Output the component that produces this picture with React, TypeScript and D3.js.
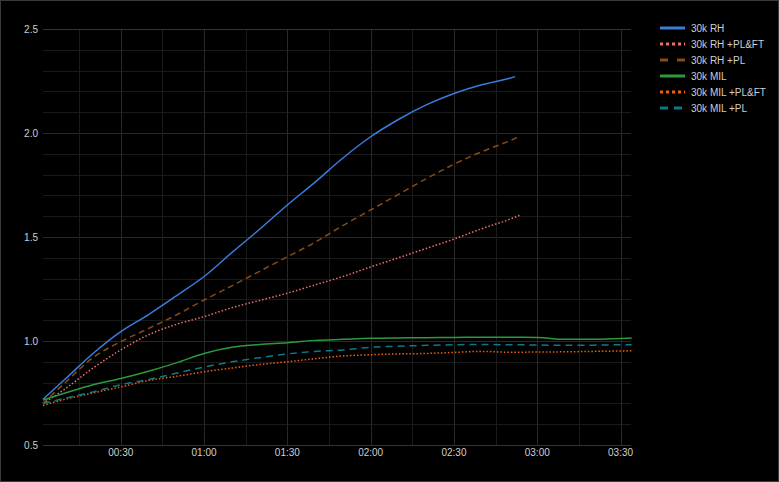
import React, { useEffect, useRef } from 'react';
import * as d3 from 'd3';

// elapsed time in minutes
const times = [2, 10, 20, 30, 40, 50, 60, 70, 80, 90, 100, 110, 120, 130, 140, 150, 160, 170, 172, 174, 180, 190, 200, 210, 214];

const rh = [0.72, 0.817, 0.94, 1.045, 1.127, 1.217, 1.31, 1.425, 1.537, 1.654, 1.764, 1.88, 1.982, 2.065, 2.135, 2.19, 2.232, 2.263, 2.271, null, null, null, null, null, null];
const rhPlFt = [0.70, 0.77, 0.87, 0.957, 1.03, 1.08, 1.117, 1.16, 1.195, 1.23, 1.27, 1.31, 1.356, 1.40, 1.445, 1.49, 1.54, 1.585, null, 1.606, null, null, null, null, null];
const rhPl = [0.70, 0.80, 0.92, 0.997, 1.06, 1.125, 1.197, 1.265, 1.335, 1.405, 1.475, 1.555, 1.63, 1.705, 1.78, 1.85, 1.91, 1.962, null, 1.985, null, null, null, null, null];
const mil = [0.716, 0.75, 0.79, 0.82, 0.855, 0.895, 0.94, 0.97, 0.983, 0.992, 1.003, 1.008, 1.013, 1.015, 1.016, 1.017, 1.018, 1.018, null, null, 1.017, 1.008, 1.008, 1.012, 1.014];
const milPlFt = [0.69, 0.72, 0.75, 0.779, 0.81, 0.83, 0.852, 0.87, 0.887, 0.90, 0.915, 0.928, 0.934, 0.938, 0.94, 0.945, 0.95, 0.946, null, null, 0.947, 0.948, 0.95, 0.952, 0.953];
const milPl = [0.70, 0.725, 0.755, 0.79, 0.815, 0.845, 0.875, 0.90, 0.92, 0.938, 0.95, 0.957, 0.97, 0.975, 0.979, 0.982, 0.983, 0.982, null, null, 0.981, 0.979, 0.98, 0.982, 0.982];

const seriesNames = ['30k RH', '30k RH +PL&FT', '30k RH +PL', '30k MIL', '30k MIL +PL&FT', '30k MIL +PL'];
const seriesValues = [rh, rhPlFt, rhPl, mil, milPlFt, milPl];
const seriesColors = ['#3b7ddd', '#ee6e6a', '#8a4b12', '#2b9a3c', '#ee5f0a', '#0c7a86'];
const seriesDash = [null, '1.5,2', '6,4', null, '1.5,2', '7,5'];
const legendDash = [null, '3,3', '8,9', null, '3,3', '8,6'];

const yTicks = [0.5, 1.0, 1.5, 2.0, 2.5];
const xTicks = [30, 60, 90, 120, 150, 180, 210];

const fmtTime = (m: number) => {
  const h = Math.floor(m / 60);
  const mm = m % 60;
  return `${String(h).padStart(2, '0')}:${String(mm).padStart(2, '0')}`;
};

export default function App() {
  const svgRef = useRef<SVGSVGElement>(null);

  useEffect(() => {
    if (!svgRef.current) return;
    const svg = d3.select(svgRef.current);
    svg.selectAll('*').remove();

    const width = 779;
    const height = 482;
    const left = 43, right = 631, top = 29, bottom = 445;

    svg.append('rect')
      .attr('x', 0.5).attr('y', 0.5)
      .attr('width', width - 1).attr('height', height - 1)
      .attr('fill', '#000')
      .attr('stroke', '#3a3a3a');

    const x = d3.scaleLinear().domain([2, 213.75]).range([left, right]);
    const y = d3.scaleLinear().domain([0.5, 2.5]).range([bottom, top]);

    const grid = svg.append('g');
    // horizontal grid, every 0.1
    d3.range(0.6, 2.5, 0.1).forEach(v => {
      const major = Math.abs(v * 2 - Math.round(v * 2)) < 1e-6;
      grid.append('line')
        .attr('x1', left).attr('x2', right)
        .attr('y1', Math.round(y(v)) + 0.5).attr('y2', Math.round(y(v)) + 0.5)
        .attr('stroke', major ? '#282828' : '#1a1a1a');
    });
    // vertical grid, every 15 min
    d3.range(15, 214, 15).forEach(m => {
      const major = m % 30 === 0;
      grid.append('line')
        .attr('y1', top).attr('y2', bottom)
        .attr('x1', Math.round(x(m)) + 0.5).attr('x2', Math.round(x(m)) + 0.5)
        .attr('stroke', major ? '#282828' : '#1a1a1a');
    });
    // top and bottom border lines
    [2.5, 0.5].forEach(v => {
      grid.append('line')
        .attr('x1', left).attr('x2', right)
        .attr('y1', Math.round(y(v)) + 0.5).attr('y2', Math.round(y(v)) + 0.5)
        .attr('stroke', '#333');
    });

    const font = 'Liberation Sans, Arial, Helvetica, sans-serif';

    svg.append('g').selectAll('text')
      .data(yTicks)
      .join('text')
      .attr('x', 38)
      .attr('y', d => y(d) + 3.5)
      .attr('text-anchor', 'end')
      .attr('font-family', font)
      .attr('font-size', 10)
      .attr('fill', '#cfcfcf')
      .text(d => d.toFixed(1));

    svg.append('g').selectAll('text')
      .data(xTicks)
      .join('text')
      .attr('x', d => x(d))
      .attr('y', 456)
      .attr('text-anchor', 'middle')
      .attr('font-family', font)
      .attr('font-size', 10)
      .attr('fill', '#cfcfcf')
      .text(d => fmtTime(d));

    const line = d3.line<[number, number]>()
      .x(d => x(d[0]))
      .y(d => y(d[1]))
      .curve(d3.curveMonotoneX);

    seriesValues.forEach((vals, i) => {
      const pts = times
        .map((t, j) => [t, vals[j]] as [number, number | null])
        .filter(p => p[1] != null) as [number, number][];
      svg.append('path')
        .datum(pts)
        .attr('fill', 'none')
        .attr('stroke', seriesColors[i])
        .attr('stroke-width', 1.5)
        .attr('stroke-dasharray', seriesDash[i])
        .attr('d', line);
    });

    // legend
    const legend = svg.append('g');
    seriesNames.forEach((name, i) => {
      const ly = 28 + i * 16;
      legend.append('line')
        .attr('x1', 660).attr('x2', 685)
        .attr('y1', ly).attr('y2', ly)
        .attr('stroke', seriesColors[i])
        .attr('stroke-width', 3)
        .attr('stroke-dasharray', legendDash[i]);
      legend.append('text')
        .attr('x', 691)
        .attr('y', ly + 3.5)
        .attr('font-family', font)
        .attr('font-size', 10)
        .attr('fill', '#cfcfcf')
        .text(name);
    });
  }, []);

  return (
    <svg
      ref={svgRef}
      width={779}
      height={482}
      style={{ position: 'absolute', left: 0, top: 0, background: '#000' }}
    />
  );
}
